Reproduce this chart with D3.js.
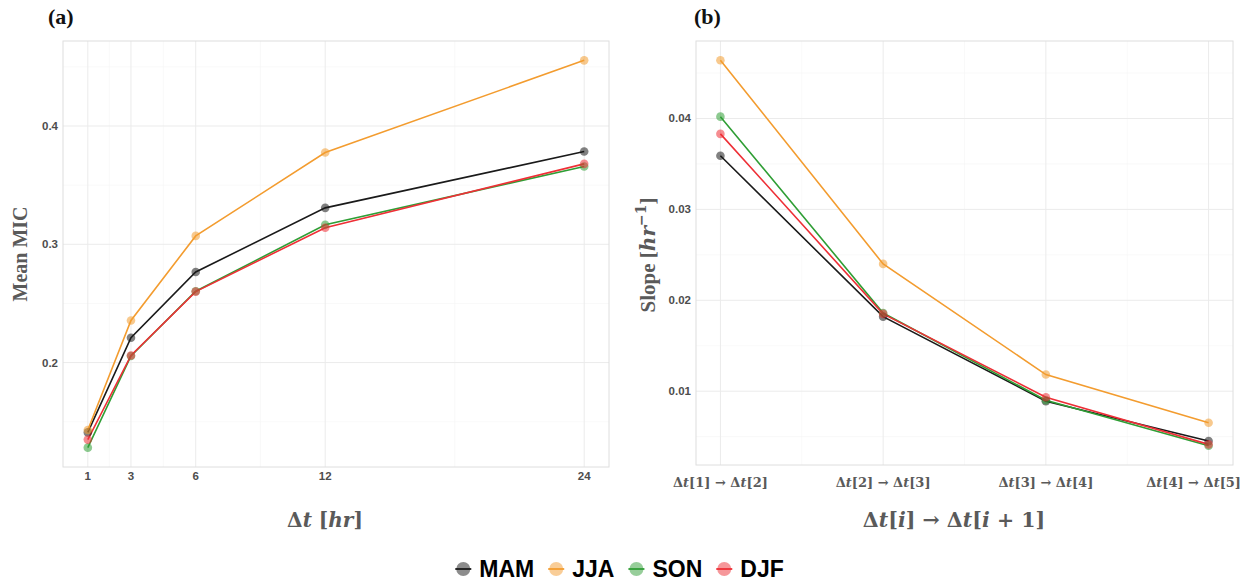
<!DOCTYPE html>
<html>
<head>
<meta charset="utf-8">
<script src="https://cdn.jsdelivr.net/npm/d3@7"></script>
<style>
  html, body { margin: 0; padding: 0; background: #fff; }
  svg { display: block; }
</style>
</head>
<body>
<svg id="chart" width="1244" height="588"></svg>
<script>
// Seasons and colours
const seasons = ["MAM", "JJA", "SON", "DJF"];
const seasonColors = ["#1a1a1a", "#f39c2f", "#2f9e35", "#ee2f36"];

// Panel (a): mean MIC against time step
const hours = [1, 3, 6, 12, 24];
const hourTicks = [1, 3, 6, 12, 24];
const micMAM = [0.1410, 0.2210, 0.2766, 0.3308, 0.3784];
const micJJA = [0.1430, 0.2356, 0.3071, 0.3776, 0.4555];
const micSON = [0.1281, 0.2056, 0.2603, 0.3165, 0.3658];
const micDJF = [0.1349, 0.2060, 0.2600, 0.3140, 0.3680];
const micTicks = [0.2, 0.3, 0.4];

// Panel (b): slope between consecutive time steps
const steps = [1, 2, 3, 4];
const stepLabels = [[1, 2], [2, 3], [3, 4], [4, 5]];
const slopeMAM = [0.0359, 0.0182, 0.0089, 0.00451];
const slopeJJA = [0.0464, 0.0240, 0.01183, 0.00653];
const slopeSON = [0.0402, 0.0186, 0.0090, 0.0040];
const slopeDJF = [0.0383, 0.0185, 0.00934, 0.00415];
const slopeTicks = [0.01, 0.02, 0.03, 0.04];

const micSeries = [micMAM, micJJA, micSON, micDJF];
const slopeSeries = [slopeMAM, slopeJJA, slopeSON, slopeDJF];

const svg = d3.select("#chart");
const W = 1244;
const gridMajor = "#ebebeb";
const gridMinor = "#f5f5f5";
const borderCol = "#dedede";
const tickCol = "#4d4d4d";
const titleCol = "#5a5a5a";
const serif = "'DejaVu Serif', 'Liberation Serif', serif";
const times = "'Liberation Serif', 'Times New Roman', serif";
const sans = "'Liberation Sans', Arial, sans-serif";

// ggplot-style 5% expansion of a data range
function expanded(vals) {
  const [lo, hi] = d3.extent(vals);
  const pad = (hi - lo) * 0.05;
  return [lo - pad, hi + pad];
}
function midpoints(arr) {
  const out = [];
  for (let i = 0; i < arr.length - 1; i++) out.push((arr[i] + arr[i + 1]) / 2);
  return out;
}

function drawPanel(opts) {
  const { box, xVals, series, xTicks, yTicks, xMinor, yMinor } = opts;
  const x = d3.scaleLinear().domain(expanded(xVals)).range([box.left, box.right]);
  const y = d3.scaleLinear().domain(expanded(series.flat())).range([box.bottom, box.top]);
  const g = svg.append("g");

  // minor grid
  g.selectAll(".vmin").data(xMinor).enter().append("line")
    .attr("x1", d => x(d)).attr("x2", d => x(d))
    .attr("y1", box.top).attr("y2", box.bottom)
    .attr("stroke", gridMinor).attr("stroke-width", 0.6);
  g.selectAll(".hmin").data(yMinor).enter().append("line")
    .attr("y1", d => y(d)).attr("y2", d => y(d))
    .attr("x1", box.left).attr("x2", box.right)
    .attr("stroke", gridMinor).attr("stroke-width", 0.6);
  // major grid
  g.selectAll(".vmaj").data(xTicks).enter().append("line")
    .attr("x1", d => x(d)).attr("x2", d => x(d))
    .attr("y1", box.top).attr("y2", box.bottom)
    .attr("stroke", gridMajor).attr("stroke-width", 1);
  g.selectAll(".hmaj").data(yTicks).enter().append("line")
    .attr("y1", d => y(d)).attr("y2", d => y(d))
    .attr("x1", box.left).attr("x2", box.right)
    .attr("stroke", gridMajor).attr("stroke-width", 1);
  // border
  g.append("rect")
    .attr("x", box.left).attr("y", box.top)
    .attr("width", box.right - box.left).attr("height", box.bottom - box.top)
    .attr("fill", "none").attr("stroke", borderCol).attr("stroke-width", 1);

  // y tick labels
  g.selectAll(".ylab").data(yTicks).enter().append("text")
    .attr("x", box.left - 5).attr("y", d => y(d))
    .attr("dy", "0.35em").attr("text-anchor", "end")
    .attr("font-family", sans).attr("font-weight", "bold")
    .attr("font-size", 11.5).attr("fill", tickCol)
    .text(d => d3.format("")(d));

  // lines and points
  const line = d3.line().x((d, i) => x(xVals[i])).y(d => y(d));
  series.forEach((vals, si) => {
    g.append("path").datum(vals)
      .attr("d", line).attr("fill", "none")
      .attr("stroke", seasonColors[si]).attr("stroke-width", 1.6);
  });
  series.forEach((vals, si) => {
    g.selectAll(null).data(vals).enter().append("circle")
      .attr("cx", (d, i) => x(xVals[i])).attr("cy", d => y(d))
      .attr("r", 4.3).attr("fill", seasonColors[si]).attr("fill-opacity", 0.55);
  });
  return { x, y, g };
}

// ---- Panel (a)
const pa = drawPanel({
  box: { left: 63, right: 609, top: 41, bottom: 467 },
  xVals: hours, series: micSeries,
  xTicks: hourTicks, yTicks: micTicks,
  xMinor: midpoints(hourTicks), yMinor: [0.15, 0.25, 0.35, 0.45]
});
pa.g.selectAll(".xlab").data(hourTicks).enter().append("text")
  .attr("x", d => pa.x(d)).attr("y", 480)
  .attr("text-anchor", "middle")
  .attr("font-family", sans).attr("font-weight", "bold")
  .attr("font-size", 11.5).attr("fill", tickCol)
  .text(d => d);

// ---- Panel (b)
const pb = drawPanel({
  box: { left: 696, right: 1233, top: 41, bottom: 465 },
  xVals: steps, series: slopeSeries,
  xTicks: steps, yTicks: slopeTicks,
  xMinor: midpoints(steps), yMinor: [0.005, 0.015, 0.025, 0.035, 0.045]
});
stepLabels.forEach((pair, i) => {
  const t = pb.g.append("text")
    .attr("x", pb.x(steps[i])).attr("y", 487)
    .attr("text-anchor", "middle")
    .attr("font-family", serif).attr("font-weight", "bold")
    .attr("font-size", 13).attr("fill", titleCol);
  t.append("tspan").text("Δ");
  t.append("tspan").attr("font-style", "italic").text("t");
  t.append("tspan").text(`[${pair[0]}] → Δ`);
  t.append("tspan").attr("font-style", "italic").text("t");
  t.append("tspan").text(`[${pair[1]}]`);
  // keep the last label inside the page
  const len = t.node().getComputedTextLength();
  const cx = pb.x(steps[i]);
  if (cx + len / 2 > W - 3) {
    t.attr("text-anchor", "end").attr("x", W - 3);
  }
});

// ---- Panel tags
svg.append("text").attr("x", 48).attr("y", 24)
  .attr("font-family", times)
  .attr("font-weight", "bold").attr("font-size", 22).attr("fill", "#111")
  .text("(a)");
svg.append("text").attr("x", 694).attr("y", 24)
  .attr("font-family", times)
  .attr("font-weight", "bold").attr("font-size", 22).attr("fill", "#111")
  .text("(b)");

// ---- Axis titles
svg.append("text")
  .attr("transform", "translate(27,254) rotate(-90)")
  .attr("text-anchor", "middle")
  .attr("font-family", times)
  .attr("font-weight", "bold").attr("font-size", 20).attr("fill", titleCol)
  .text("Mean MIC");

const ya = svg.append("text")
  .attr("transform", "translate(655,255) rotate(-90)")
  .attr("text-anchor", "middle")
  .attr("font-weight", "bold").attr("font-size", 21).attr("fill", titleCol);
ya.append("tspan").attr("font-family", times).text("Slope [");
ya.append("tspan").attr("font-family", serif).attr("font-style", "italic").attr("font-size", 20).text("hr");
ya.append("tspan").attr("font-family", serif).attr("font-size", 14).attr("dy", -9).text("−1");
ya.append("tspan").attr("font-family", times).attr("dy", 9).text("]");

const xa = svg.append("text")
  .attr("x", 325).attr("y", 527)
  .attr("text-anchor", "middle")
  .attr("font-family", serif).attr("font-weight", "bold")
  .attr("font-size", 20).attr("fill", titleCol);
xa.append("tspan").text("Δ");
xa.append("tspan").attr("font-style", "italic").text("t");
xa.append("tspan").text(" [");
xa.append("tspan").attr("font-style", "italic").text("hr");
xa.append("tspan").text("]");

const xb = svg.append("text")
  .attr("x", 954).attr("y", 527)
  .attr("text-anchor", "middle")
  .attr("font-family", serif).attr("font-weight", "bold")
  .attr("font-size", 20.5).attr("fill", titleCol);
xb.append("tspan").text("Δ");
xb.append("tspan").attr("font-style", "italic").text("t");
xb.append("tspan").text("[");
xb.append("tspan").attr("font-style", "italic").text("i");
xb.append("tspan").text("]  →  Δ");
xb.append("tspan").attr("font-style", "italic").text("t");
xb.append("tspan").text("[");
xb.append("tspan").attr("font-style", "italic").text("i");
xb.append("tspan").text(" + 1]");

// ---- Legend (laid out left to right, centred under the figure)
const legend = svg.append("g");
const legY = 569, keyR = 7, keyGap = 13, itemGap = 15;
let cursor = 0;
const items = seasons.map((s, i) => {
  const grp = legend.append("g");
  grp.append("circle").attr("cx", 0).attr("cy", legY).attr("r", keyR)
    .attr("fill", seasonColors[i]).attr("fill-opacity", 0.5);
  grp.append("line").attr("x1", -keyR - 1).attr("x2", keyR + 1)
    .attr("y1", legY).attr("y2", legY)
    .attr("stroke", seasonColors[i]).attr("stroke-width", 1.8);
  const txt = grp.append("text").attr("x", keyR + keyGap - 4).attr("y", legY)
    .attr("dy", "0.36em")
    .attr("font-family", sans).attr("font-weight", "bold")
    .attr("font-size", 23).attr("fill", "#000")
    .text(s);
  const w = keyR * 2 + keyGap - 4 + txt.node().getComputedTextLength();
  const start = cursor;
  cursor += w + itemGap;
  return { grp, start };
});
const total = cursor - itemGap;
const left = 620 - total / 2;
items.forEach(it => it.grp.attr("transform", `translate(${left + it.start + keyR},0)`));
</script>
</body>
</html>
